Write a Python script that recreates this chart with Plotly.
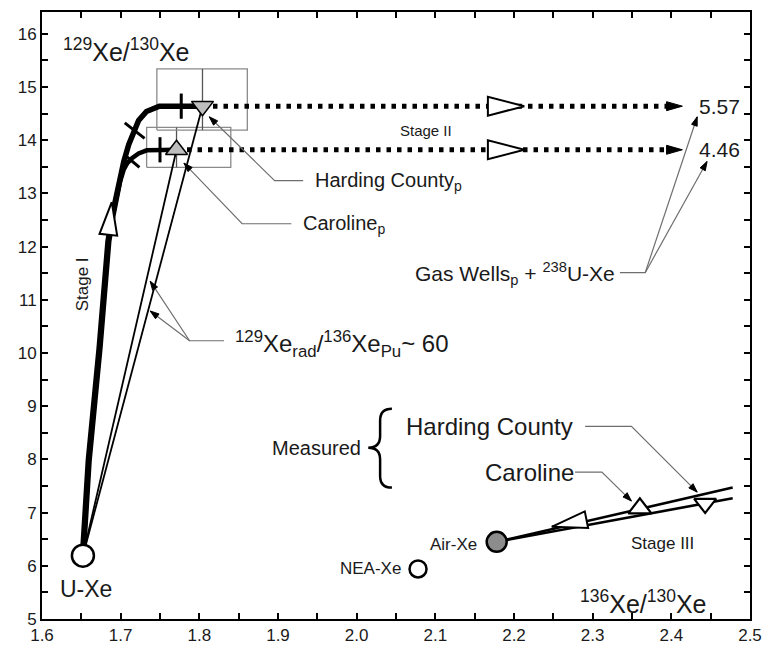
import math
import plotly.graph_objects as go

# ---------------- data ----------------
x_tick_vals = [1.6, 1.7, 1.8, 1.9, 2.0, 2.1, 2.2, 2.3, 2.4, 2.5]
x_tick_text = ["1.6", "1.7", "1.8", "1.9", "2.0", "2.1", "2.2", "2.3", "2.4", "2.5"]
y_tick_vals = [5, 6, 7, 8, 9, 10, 11, 12, 13, 14, 15, 16]
y_tick_text = ["5", "6", "7", "8", "9", "10", "11", "12", "13", "14", "15", "16"]
x_minor_step = 0.05
y_minor_step = 0.5

# reference compositions
ref_names = ["U-Xe", "NEA-Xe", "Air-Xe"]
ref_x = [1.652, 2.078, 2.178]
ref_y = [6.19, 5.94, 6.45]

# measured gases
meas_names = ["Caroline", "Harding County"]
meas_x = [2.360, 2.443]
meas_y = [7.08, 7.17]

# predicted (primordial) gases with error boxes
pred_names = ["Caroline<sub>p</sub>", "Harding County<sub>p</sub>"]
pred_x = [1.771, 1.804]
pred_y = [13.82, 14.64]
pred_x_lo = [1.733, 1.746]
pred_x_hi = [1.840, 1.861]
pred_y_lo = [13.49, 14.19]
pred_y_hi = [14.24, 15.34]

# Stage I evolution curves (from U-Xe)
stage1_harding_x = [1.6514, 1.6589, 1.6727, 1.6839, 1.6890, 1.6940, 1.6990, 1.7040, 1.7103, 1.7165, 1.7228, 1.7328, 1.7491, 1.8042]
stage1_harding_y = [6.18, 7.98, 10.10, 12.10, 12.57, 12.95, 13.32, 13.60, 13.92, 14.16, 14.37, 14.54, 14.64, 14.64]
stage1_caroline_x = [1.6530, 1.6605, 1.6743, 1.6855, 1.6906, 1.6956, 1.6995, 1.7040, 1.7084, 1.7144, 1.7228, 1.7332, 1.7717]
stage1_caroline_y = [6.18, 7.98, 10.10, 12.10, 12.57, 12.95, 13.23, 13.45, 13.57, 13.66, 13.75, 13.81, 13.82]

# Stage II (Gas Wells_p + 238U-Xe) end points
stage2_end_x = 2.414
stage2_end_labels = ["4.46", "5.57"]

# Stage III mixing lines towards air
stage3_end_x = 2.478
stage3_end_y = [7.47, 7.27]

# ---------------- geometry helpers ----------------
W, H = 772, 659
ML, MR, MT, MB = 42, 12, 10, 40
XR = [1.6, 2.5]
YR = [5.0, 16.41]
KX = (W - ML - MR) / (XR[1] - XR[0])
KY = (H - MT - MB) / (YR[1] - YR[0])

FONT = "Liberation Sans, Arial, sans-serif"
fig = go.Figure()


def line(xs, ys, color="black", width=2, dash=None):
    ln = dict(color=color, width=width)
    if dash:
        ln["dash"] = dash
    fig.add_trace(go.Scatter(x=xs, y=ys, mode="lines", line=ln, hoverinfo="skip", showlegend=False))


def marker(x, y, symbol, size, fill="white", lw=2, angle=0):
    fig.add_trace(go.Scatter(x=[x], y=[y], mode="markers",
                             marker=dict(symbol=symbol, size=size, color=fill, angle=angle, opacity=1,
                                         line=dict(color="black", width=lw)),
                             hoverinfo="skip", showlegend=False))


def arrowhead(cx, cy, ang, L, Wd, fill="white", lw=2, at="center"):
    a = math.radians(ang)
    ux, uy = math.cos(a), math.sin(a)
    vx, vy = -uy, ux
    if at == "center":
        tx, ty = L / 2 * ux, L / 2 * uy
    else:
        tx, ty = 0.0, 0.0
    bx, by = tx - L * ux, ty - L * uy
    pts = [(tx, ty), (bx + Wd / 2 * vx, by + Wd / 2 * vy), (bx - Wd / 2 * vx, by - Wd / 2 * vy), (tx, ty)]
    xs = [cx + p[0] / KX for p in pts]
    ys = [cy + p[1] / KY for p in pts]
    fig.add_trace(go.Scatter(x=xs, y=ys, mode="lines", fill="toself", fillcolor=fill,
                             line=dict(color="black", width=lw), hoverinfo="skip", showlegend=False))


def callout(xs, ys):
    line(xs, ys, color="#6e6e6e", width=1.2)
    dx = (xs[-1] - xs[-2]) * KX
    dy = (ys[-1] - ys[-2]) * KY
    ang = math.degrees(math.atan2(dy, dx))
    arrowhead(xs[-1], ys[-1], ang, 9, 6, fill="black", lw=1, at="tip")


def label(x, y, text, size=20, xanchor="left", yanchor="middle", angle=0, color="#1a1a1a"):
    fig.add_annotation(x=x, y=y, text=text, showarrow=False, xanchor=xanchor, yanchor=yanchor,
                       textangle=angle, borderpad=0, font=dict(family=FONT, size=size, color=color))


# ---------------- error boxes ----------------
for i in range(2):
    line([pred_x_lo[i], pred_x_hi[i], pred_x_hi[i], pred_x_lo[i], pred_x_lo[i]],
         [pred_y_lo[i], pred_y_lo[i], pred_y_hi[i], pred_y_hi[i], pred_y_lo[i]], color="#8a8a8a", width=1.3)
    line([pred_x[i], pred_x[i]], [pred_y_lo[i], pred_y_hi[i]], color="#555555", width=1.3)

# ---------------- radiogenic lines from U-Xe ----------------
for i in range(2):
    line([ref_x[0], pred_x[i]], [ref_y[0], pred_y[i]], color="black", width=1.8)

# ---------------- Stage I curves ----------------
line(stage1_caroline_x, stage1_caroline_y, width=4.5)
line(stage1_harding_x, stage1_harding_y, width=5.5)

# stage I arrow on stem and tick marks
arrowhead(1.6865, 12.53, 84, 33, 18)
marker(1.777, pred_y[1], "line-ns", 18, fill="black", lw=3)
marker(1.750, pred_y[0], "line-ns", 18, fill="black", lw=3)
marker(1.7178, 14.18, "line-ns", 18, fill="black", lw=3, angle=-52)
marker(1.7150, 13.60, "line-ns", 13, fill="black", lw=3, angle=-50)

# ---------------- Stage II dotted lines ----------------
for i in range(2):
    line([pred_x[i], stage2_end_x - 14 / KX], [pred_y[i], pred_y[i]], width=5, dash="4.5px,6px")
    arrowhead(stage2_end_x, pred_y[i], 0, 16, 9, fill="black", lw=1, at="tip")
    arrowhead(2.190, pred_y[i], 0, 37, 19)
    label(stage2_end_x + 16 / KX, pred_y[i], stage2_end_labels[i], size=21)

# ---------------- Stage III lines ----------------
for i in range(2):
    line([ref_x[2], stage3_end_x], [ref_y[2], stage3_end_y[i]], width=2.6)
arrowhead(2.270, 6.80, 191.5, 36, 17)

# ---------------- markers ----------------
marker(pred_x[0], pred_y[0], "triangle-up", 19, fill="#bdbdbd", lw=1.5)
marker(pred_x[1], pred_y[1], "triangle-down", 19, fill="#bdbdbd", lw=1.5)
marker(meas_x[0], meas_y[0], "triangle-up", 20, fill="white", lw=2.2)
marker(meas_x[1], meas_y[1], "triangle-down", 19, fill="white", lw=2.2)
marker(ref_x[0], ref_y[0], "circle", 22, fill="white", lw=2.5)
marker(ref_x[1], ref_y[1], "circle", 17, fill="white", lw=2.5)
marker(ref_x[2], ref_y[2], "circle", 20, fill="#8c8c8c", lw=2.5)

# ---------------- callouts ----------------
callout([1.932, 1.8957, 1.8126], [13.24, 13.24, 14.44])
callout([1.917, 1.8544, 1.7804], [12.43, 12.43, 13.57])
callout([1.8314, 1.7876, 1.7375], [10.23, 10.23, 11.35])
callout([1.7876, 1.7375], [10.23, 10.79])
callout([2.3346, 2.3668, 2.4329], [11.51, 11.51, 14.44])
callout([2.3668, 2.4454], [11.51, 13.60])
callout([2.2904, 2.3493, 2.4329], [8.62, 8.62, 7.385])
callout([2.2775, 2.3117, 2.3493], [7.76, 7.76, 7.217])

# ---------------- brace ----------------
bx_l, bx_m, bx_r = 2.0147, 2.0298, 2.0448
by_t, by_m, by_b = 8.95, 8.22, 7.47
hh = 0.22
brace = (f"M {bx_r},{by_t} Q {bx_m},{by_t} {bx_m},{by_t - hh} "
         f"L {bx_m},{by_m + hh} Q {bx_m},{by_m} {bx_l},{by_m} "
         f"Q {bx_m},{by_m} {bx_m},{by_m - hh} L {bx_m},{by_b + hh} "
         f"Q {bx_m},{by_b} {bx_r},{by_b}")
fig.add_shape(type="path", path=brace, xref="x", yref="y", line=dict(color="black", width=2.5))

# ---------------- text ----------------
label(1.6250, 15.70, "<sup>129</sup>Xe/<sup>130</sup>Xe", size=25)
label(2.3640, 5.32, "<sup>136</sup>Xe/<sup>130</sup>Xe", size=25, xanchor="center")
label(ref_x[0] + 0.004, 5.56, ref_names[0], size=23, xanchor="center")
label(2.0573, 5.94, ref_names[1], size=17, xanchor="right")
label(2.1545, 6.40, ref_names[2], size=17, xanchor="right")
label(1.9458, 13.22, pred_names[1], size=20)
label(1.9308, 12.42, pred_names[0], size=20)
label(2.3300, 11.50, "Gas Wells<sub>p</sub> + <sup>238</sup>U-Xe", size=21, xanchor="right")
label(1.844, 10.17, "<sup>129</sup>Xe<sub>rad</sub>/<sup>136</sup>Xe<sub>Pu</sub>~ 60", size=24)
label(2.061, 8.62, meas_names[1], size=24)
label(2.1613, 7.76, meas_names[0], size=24)
label(2.0072, 8.22, "Measured", size=20, xanchor="right")
label(2.088, 14.18, "Stage II", size=15, xanchor="center")
label(2.389, 6.42, "Stage III", size=17, xanchor="center")
label(1.6514, 11.30, "Stage I", size=17, xanchor="center", angle=-90)

# ---------------- layout ----------------
axis_common = dict(showline=True, linewidth=2, linecolor="black", mirror="ticks", ticks="inside",
                   ticklen=6, tickwidth=1.5, tickcolor="black", showgrid=False, zeroline=False,
                   tickfont=dict(family=FONT, size=17, color="#1a1a1a"))
fig.update_layout(
    width=W, height=H,
    margin=dict(l=ML, r=MR, t=MT, b=MB),
    paper_bgcolor="white", plot_bgcolor="white",
    xaxis=dict(range=XR, tickvals=x_tick_vals, ticktext=x_tick_text,
               minor=dict(dtick=x_minor_step, tick0=XR[0], ticks="inside", ticklen=6, tickwidth=1.5, tickcolor="black", showgrid=False),
               **axis_common),
    yaxis=dict(range=YR, tickvals=y_tick_vals, ticktext=y_tick_text,
               minor=dict(dtick=y_minor_step, tick0=YR[0], ticks="inside", ticklen=6, tickwidth=1.5, tickcolor="black", showgrid=False),
               **axis_common),
    showlegend=False,
)

fig.write_html("out.html")
